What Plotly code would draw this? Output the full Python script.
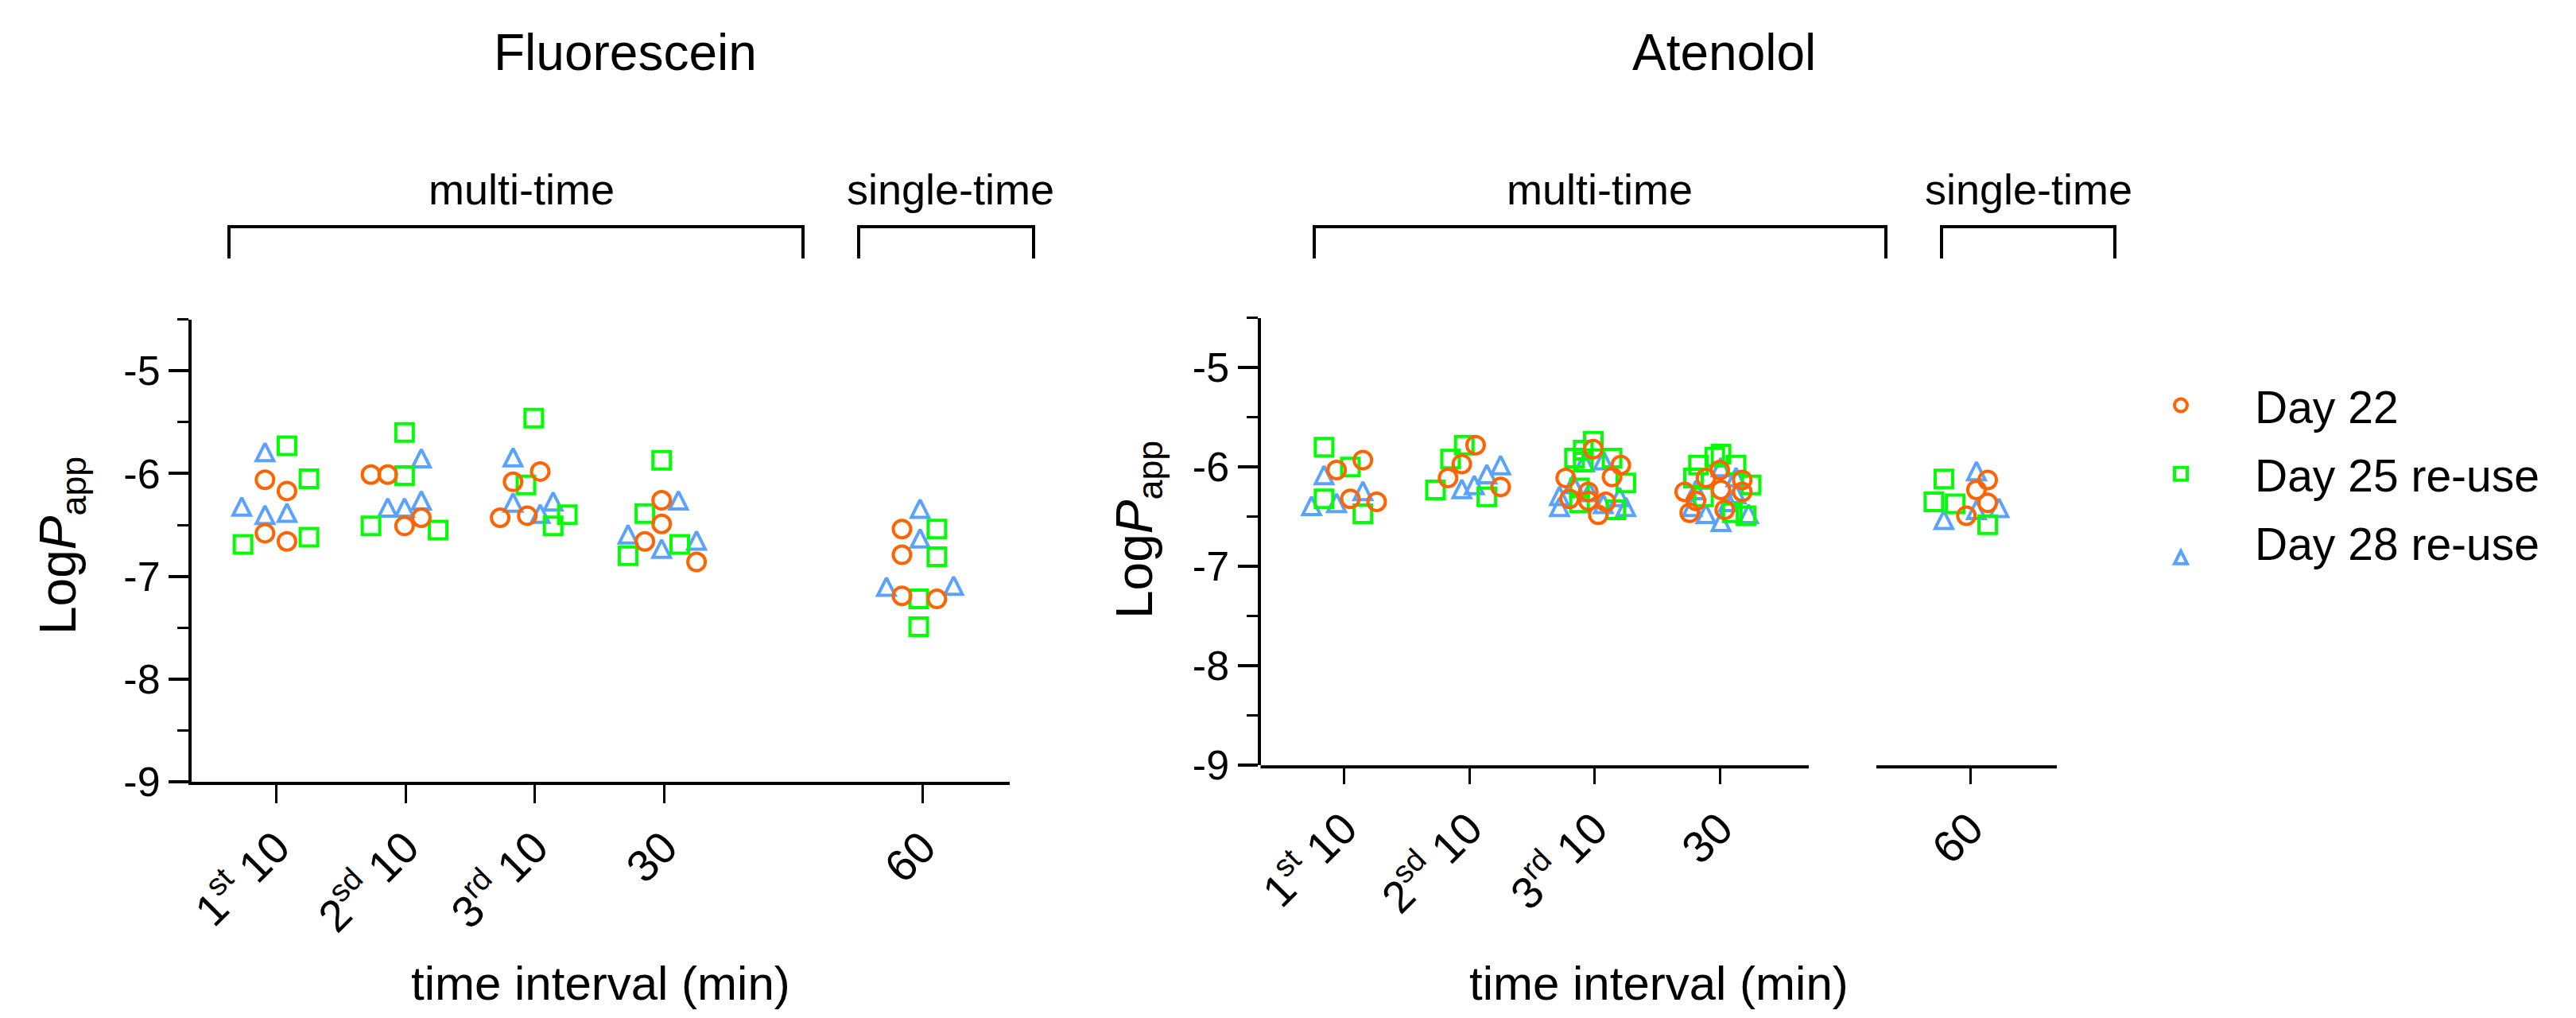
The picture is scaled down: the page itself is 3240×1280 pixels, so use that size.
import numpy as np
import plotly.graph_objects as go

W, H = 3240, 1280
FONT = "Liberation Sans, Arial, sans-serif"

# ---------------- data ----------------
categories = ["1<sup>st</sup> 10", "2<sup>sd</sup> 10", "3<sup>rd</sup> 10", "30", "60"]
cat_positions = [1, 2, 3, 4, 6]
series_names = ["Day 22", "Day 25 re-use", "Day 28 re-use"]
y_tick_vals = [-9, -8, -7, -6, -5]
y_tick_text = ["-9", "-8", "-7", "-6", "-5"]
panel_titles = ["Fluorescein", "Atenolol"]

# Fluorescein  (category index, LogPapp, horizontal spread of the dot plot)
flu_d22_cat = [0, 0, 0, 0, 1, 1, 1, 1, 2, 2, 2, 2, 3, 3, 3, 3, 4, 4, 4, 4]
flu_d22_val = [-6.06, -6.17, -6.58, -6.66, -6.01, -6.01, -6.51, -6.43, -5.98, -6.08, -6.43, -6.41,
               -6.26, -6.49, -6.66, -6.86, -6.54, -6.79, -7.19, -7.22]
flu_d22_spread = [-0.09, 0.08, -0.09, 0.08, -0.27, -0.14, -0.01, 0.12, 0.04, -0.17, -0.27, -0.06,
                  -0.02, -0.02, -0.15, 0.25, -0.16, -0.16, -0.16, 0.11]

flu_d25_cat = [0, 0, 0, 0, 1, 1, 1, 1, 2, 2, 2, 2, 3, 3, 3, 3, 4, 4, 4, 4]
flu_d25_val = [-5.73, -6.05, -6.62, -6.69, -5.60, -6.02, -6.51, -6.55, -5.46, -6.11, -6.40, -6.51,
               -5.87, -6.39, -6.69, -6.80, -6.54, -6.81, -7.22, -7.49]
flu_d25_spread = [0.08, 0.25, 0.25, -0.26, -0.01, -0.01, -0.27, 0.25, -0.01, -0.07, 0.25, 0.14,
                  -0.02, -0.15, 0.12, -0.28, 0.11, 0.11, -0.03, -0.03]

flu_d28_cat = [0, 0, 0, 0, 1, 1, 1, 1, 2, 2, 2, 2, 3, 3, 3, 3, 4, 4, 4, 4]
flu_d28_val = [-5.79, -6.32, -6.40, -6.38, -5.85, -6.33, -6.33, -6.26, -5.84, -6.28, -6.27, -6.39,
               -6.26, -6.59, -6.73, -6.65, -6.34, -6.63, -7.10, -7.09]
flu_d28_spread = [-0.09, -0.27, -0.09, 0.08, 0.12, -0.14, -0.01, 0.12, -0.17, -0.17, 0.14, 0.04,
                  0.11, -0.28, -0.02, 0.25, -0.02, -0.02, -0.28, 0.24]

# Atenolol
ate_d22_cat = [0, 0, 0, 0, 1, 1, 1, 1] + [2] * 9 + [3] * 9 + [4, 4, 4, 4]
ate_d22_val = [-6.03, -5.93, -6.32, -6.35, -5.97, -6.11, -6.20, -5.78,
               -5.82, -5.98, -6.11, -6.10, -6.25, -6.32, -6.34, -6.35, -6.48,
               -6.03, -6.11, -6.13, -6.23, -6.25, -6.25, -6.34, -6.46, -6.43,
               -6.13, -6.23, -6.36, -6.49]
ate_d22_spread = [-0.06, 0.15, 0.05, 0.26, -0.06, -0.17, 0.25, 0.05,
                  -0.01, 0.21, -0.23, 0.14, -0.05, -0.20, -0.05, 0.09, 0.03,
                  0.00, -0.11, 0.18, 0.01, 0.18, -0.28, -0.19, -0.24, 0.04,
                  0.14, 0.05, 0.14, -0.03]

ate_d25_cat = [0, 0, 0, 0, 1, 1, 1, 1] + [2] * 9 + [3] * 9 + [4, 4, 4, 4]
ate_d25_val = [-5.80, -6.00, -6.32, -6.47, -6.23, -5.92, -5.78, -6.30,
               -5.74, -5.83, -5.91, -5.95, -5.91, -6.16, -6.21, -6.36, -6.43,
               -5.90, -5.87, -5.98, -5.98, -6.11, -6.18, -6.30, -6.46, -6.49,
               -6.12, -6.35, -6.37, -6.58]
ate_d25_spread = [-0.16, 0.05, -0.16, 0.15, -0.27, -0.15, -0.04, 0.14,
                  -0.01, -0.09, -0.16, -0.09, 0.14, 0.25, -0.12, -0.12, 0.17,
                  -0.04, 0.01, -0.17, 0.13, -0.21, 0.25, -0.13, 0.10, 0.21,
                  -0.21, -0.29, -0.12, 0.14]

ate_d28_cat = [0, 0, 0, 0, 1, 1, 1, 1] + [2] * 9 + [3] * 9 + [4, 4, 4, 4]
ate_d28_val = [-6.08, -6.39, -6.36, -6.24, -6.22, -6.18, -6.07, -5.98,
               -6.40, -6.40, -6.29, -5.93, -5.95, -6.17, -6.30, -6.25, -6.37,
               -6.23, -6.55, -6.47, -6.47, -6.27, -6.00, -6.10, -6.40, -6.35,
               -6.04, -6.53, -6.41, -6.43]
ate_d28_spread = [-0.16, -0.26, -0.06, 0.15, -0.06, 0.04, 0.14, 0.25,
                  -0.28, 0.25, -0.28, 0.07, -0.08, -0.17, 0.20, -0.04, 0.07,
                  -0.19, 0.01, 0.23, -0.11, 0.13, 0.01, 0.13, -0.22, 0.07,
                  0.05, -0.21, 0.23, 0.05]

# ---------------- styling ----------------
colors = ["#FF6400", "#00FF00", "#5AA2FF"]
# the triangle is an arrow-head turned round and pushed back by half its size,
# which gives an isosceles triangle (height == width) centred on the point
marker_styles = [
    dict(symbol="circle-open", size=22),
    dict(symbol="square-open", size=22),
    dict(symbol="arrow-down-open", size=22, angle=180, standoff=11),
]


def px(x):
    return x / W


def py(y):
    return 1 - y / H


fig = go.Figure()

panels = [
    ("x", "y", [(flu_d22_cat, flu_d22_val, flu_d22_spread),
                (flu_d25_cat, flu_d25_val, flu_d25_spread),
                (flu_d28_cat, flu_d28_val, flu_d28_spread)]),
    ("x2", "y2", [(ate_d22_cat, ate_d22_val, ate_d22_spread),
                  (ate_d25_cat, ate_d25_val, ate_d25_spread),
                  (ate_d28_cat, ate_d28_val, ate_d28_spread)]),
]

pos = np.array(cat_positions, dtype=float)
for pi, (xa, ya, sets) in enumerate(panels):
    # draw Day 28 first, Day 22 last (on top)
    for si in [2, 1, 0]:
        cat, val, spread = sets[si]
        xs = pos[np.array(cat)] + np.array(spread)
        fig.add_trace(go.Scatter(
            x=xs, y=val, xaxis=xa, yaxis=ya, mode="markers",
            name=series_names[si], legendgroup=series_names[si],
            legendrank=si + 1, showlegend=(pi == 0),
            marker=dict(marker_styles[si], color=colors[si],
                        line=dict(width=4, color=colors[si])),
            hoverinfo="skip",
        ))

# ---------------- axes ----------------
common_x = dict(tickmode="array", tickvals=cat_positions, ticktext=categories, tickangle=-45,
                ticks="outside", ticklen=23, tickwidth=3, tickcolor="black",
                showgrid=False, zeroline=False, linecolor="black", linewidth=4,
                tickfont=dict(family=FONT, size=56, color="black"), fixedrange=True)
common_y = dict(tickmode="array", tickvals=y_tick_vals, ticktext=y_tick_text, range=[-9, -4.5],
                ticks="outside", ticklen=25, tickwidth=4, tickcolor="black",
                showgrid=False, zeroline=False, showline=True, linecolor="black", linewidth=4,
                minor=dict(dtick=0.5, tick0=-9, ticks="outside", ticklen=14, tickwidth=3,
                           tickcolor="black", showgrid=False),
                tickfont=dict(family=FONT, size=52, color="black"), fixedrange=True)

L_X0, L_X1, L_Y0, L_Y1 = 233, 1262, 975, 393.7
R_X0, R_X1, R_Y0, R_Y1 = 1577.5, 2579, 954.2, 391.7

fig.update_layout(
    xaxis=dict(common_x, domain=[px(L_X0), px(L_X1)], range=[0.342, 6.674], anchor="y", showline=True),
    yaxis=dict(common_y, domain=[py(L_Y0), py(L_Y1)], anchor="x"),
    xaxis2=dict(common_x, domain=[px(R_X0), px(R_X1)], range=[0.333, 6.692], anchor="y2", showline=False),
    yaxis2=dict(common_y, domain=[py(R_Y0), py(R_Y1)], anchor="x2"),
)

shapes = []
# broken x axis of the Atenolol panel
for a, b in [(R_X0, 2267), (2352, R_X1)]:
    shapes.append(dict(type="line", xref="paper", yref="paper", x0=px(a), x1=px(b),
                       y0=py(R_Y0 + 2), y1=py(R_Y0 + 2), line=dict(color="black", width=4)))
# brackets
BR_TOP, BR_BOT = 277, 317
for a, b in [(280, 1002), (1072, 1292), (1645, 2364), (2434, 2652)]:
    shapes.append(dict(type="path", xref="paper", yref="paper",
                       path=f"M {px(a)},{py(BR_BOT)} L {px(a)},{py(BR_TOP)} L {px(b)},{py(BR_TOP)} L {px(b)},{py(BR_BOT)}",
                       line=dict(color="black", width=4)))

ann = []
for t, x in zip(panel_titles, [778, 2160]):
    ann.append(dict(text=t, x=px(x), y=py(58), xref="paper", yref="paper", showarrow=False,
                    xanchor="center", yanchor="middle", font=dict(family=FONT, size=64, color="black")))
for t, x in [("multi-time", 648), ("single-time", 1187), ("multi-time", 2004), ("single-time", 2543)]:
    ann.append(dict(text=t, x=px(x), y=py(230), xref="paper", yref="paper", showarrow=False,
                    xanchor="center", yanchor="middle", font=dict(family=FONT, size=54, color="black")))
for x in [(L_X0 + L_X1) / 2, (R_X0 + R_X1) / 2]:
    ann.append(dict(text="time interval (min)", x=px(x), y=py(1228), xref="paper", yref="paper",
                    showarrow=False, xanchor="center", yanchor="middle",
                    font=dict(family=FONT, size=60, color="black")))
for x, y in [(69, 678), (1423, 658)]:
    ann.append(dict(text="Log<i>P</i><sub>app</sub>", x=px(x), y=py(y), xref="paper", yref="paper",
                    showarrow=False, xanchor="center", yanchor="middle", textangle=-90,
                    font=dict(family=FONT, size=64, color="black")))

fig.update_layout(
    width=W, height=H, margin=dict(l=0, r=0, t=0, b=0, autoexpand=False),
    paper_bgcolor="white", plot_bgcolor="white",
    shapes=shapes, annotations=ann,
    showlegend=True,
    legend=dict(x=px(2642), y=py(458), xanchor="left", yanchor="top",
                font=dict(family=FONT, size=57, color="black"),
                bgcolor="rgba(0,0,0,0)", tracegroupgap=9, itemwidth=176,
                traceorder="grouped"),
)

fig.write_html("out.html")
